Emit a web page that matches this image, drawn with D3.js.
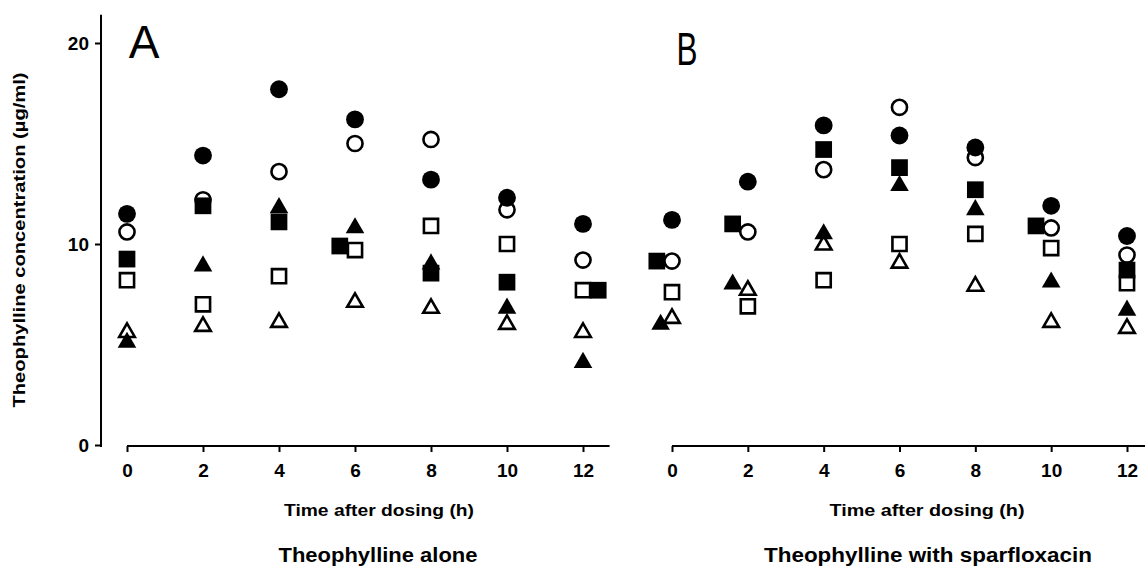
<!DOCTYPE html>
<html>
<head>
<meta charset="utf-8">
<script src="https://cdn.jsdelivr.net/npm/d3@7"></script>
<style>
    body { margin: 0; background: #fff; }
    svg { display: block; }
</style>
</head>
<body>
<script>

// -------------------------------------------------------------------------- //
//                                   DATA                                     //
// -------------------------------------------------------------------------- //

var xTicks = [0, 2, 4, 6, 8, 10, 12];
var yTicks = [0, 10, 20];

// sampling times (h); a few points are drawn slightly off the nominal time
var times         = [0, 2, 4, 6, 8, 10, 12];
var aTimesFSquare = [0, 2, 4, 5.6, 8, 10, 12.4];
var bTimesFSquare = [-0.4, 1.6, 4, 6, 8, 9.6, 12];
var bTimesFTri    = [-0.3, 1.6, 4, 6, 8, 10, 12];

// panel A : theophylline alone (ug/ml)
var aFilledCircle = [11.5, 14.4, 17.7, 16.2, 13.2, 12.3, 11.0];
var aOpenCircle   = [10.6, 12.2, 13.6, 15.0, 15.2, 11.7, 9.2];
var aFilledSquare = [9.25, 11.9, 11.1, 9.9, 8.55, 8.1, 7.7];
var aOpenSquare   = [8.2, 7.0, 8.4, 9.7, 10.9, 10.0, 7.7];
var aFilledTri    = [5.1, 8.9, 11.8, 10.8, 9.0, 6.8, 4.1];
var aOpenTri      = [5.6, 5.9, 6.1, 7.1, 6.8, 6.0, 5.6];

// panel B : theophylline with sparfloxacin (ug/ml)
var bFilledCircle = [11.2, 13.1, 15.9, 15.4, 14.8, 11.9, 10.4];
var bOpenCircle   = [9.15, 10.6, 13.7, 16.8, 14.3, 10.8, 9.45];
var bFilledSquare = [9.15, 11.0, 14.7, 13.8, 12.7, 10.9, 8.7];
var bOpenSquare   = [7.6, 6.9, 8.2, 10.0, 10.5, 9.8, 8.05];
var bFilledTri    = [6.0, 8.0, 10.5, 12.9, 11.7, 8.1, 6.7];
var bOpenTri      = [6.3, 7.7, 9.95, 9.05, 7.9, 6.1, 5.8];

// -------------------------------------------------------------------------- //
//                                  SETUP                                     //
// -------------------------------------------------------------------------- //

var width = 1145, height = 569;
var font = "'Liberation Sans', Arial, sans-serif";

var svg = d3.select("body")
    .append("svg")
    .attr("width", width)
    .attr("height", height);

svg.append("rect")
    .attr("width", width)
    .attr("height", height)
    .attr("fill", "#fff");

var y  = d3.scaleLinear().domain([0, 20]).range([445, 43]);
var xA = d3.scaleLinear().domain([0, 12]).range([127, 583]);
var xB = d3.scaleLinear().domain([0, 12]).range([672, 1127]);

// -------------------------------------------------------------------------- //
//                                   AXES                                     //
// -------------------------------------------------------------------------- //

var yAxisG = svg.append("g")
    .attr("transform", "translate(101,0)")
    .call(d3.axisLeft(y).tickValues(yTicks).tickSize(6).tickPadding(6)
        .tickFormat(d3.format("d")));

yAxisG.select(".domain").remove();
yAxisG.append("line")
    .attr("y1", y(-0.1))
    .attr("y2", y(21.4))
    .attr("stroke", "#000")
    .attr("stroke-width", 2);

function xAxis(xScale, xEnd)
{
    var g = svg.append("g")
        .attr("transform", "translate(0," + (y(0) + 1) + ")")
        .call(d3.axisBottom(xScale).tickValues(xTicks).tickSize(6).tickPadding(12)
            .tickFormat(d3.format("d")));

    g.select(".domain").remove();
    g.append("line")
        .attr("x1", xScale(0))
        .attr("x2", xScale(xEnd))
        .attr("stroke", "#000")
        .attr("stroke-width", 2);
    return g;
}

xAxis(xA, 12.7);
xAxis(xB, 12.6);

svg.selectAll(".tick line")
    .attr("stroke", "#000")
    .attr("stroke-width", 2);

svg.selectAll(".tick text")
    .style("font-family", font)
    .style("font-size", "19px")
    .style("font-weight", "bold")
    .attr("fill", "#000");

// -------------------------------------------------------------------------- //
//                                 MARKERS                                    //
// -------------------------------------------------------------------------- //

var shapes = {
    circle:   { type: d3.symbolCircle,   filled: 250, open: 180 },
    square:   { type: d3.symbolSquare,   filled: 280, open: 200 },
    triangle: { type: d3.symbolTriangle, filled: 150, open: 105 }
};

function drawSeries (xScale, t, values, shape, filled)
{
    var s = shapes[shape];
    var sym = d3.symbol().type(s.type).size(filled ? s.filled : s.open);
    var pts = values.map(function(v, i) { return { t: t[i], v: v }; });

    svg.append("g")
        .selectAll("path")
        .data(pts)
        .join("path")
        .attr("transform", function(d) {
            return "translate(" + xScale(d.t) + "," + y(d.v) + ")";
        })
        .attr("d", sym)
        .attr("fill", filled ? "#000" : "#fff")
        .attr("stroke", "#000")
        .attr("stroke-width", filled ? 0 : 2.6);
}

// panel A
drawSeries(xA, times, aOpenTri, "triangle", false);
drawSeries(xA, times, aFilledTri, "triangle", true);
drawSeries(xA, times, aOpenSquare, "square", false);
drawSeries(xA, times, aOpenCircle, "circle", false);
drawSeries(xA, aTimesFSquare, aFilledSquare, "square", true);
drawSeries(xA, times, aFilledCircle, "circle", true);

// panel B
drawSeries(xB, times, bOpenSquare, "square", false);
drawSeries(xB, times, bOpenTri, "triangle", false);
drawSeries(xB, bTimesFTri, bFilledTri, "triangle", true);
drawSeries(xB, bTimesFSquare, bFilledSquare, "square", true);
drawSeries(xB, times, bOpenCircle, "circle", false);
drawSeries(xB, times, bFilledCircle, "circle", true);

// -------------------------------------------------------------------------- //
//                                   TEXT                                     //
// -------------------------------------------------------------------------- //

function textOutput (x, yPos, text, size, weight, len, rotate)
{
    var t = svg.append("text")
        .text(text)
        .attr("x", x)
        .attr("y", yPos)
        .style("font-family", font)
        .style("font-size", size + "px")
        .style("font-weight", weight)
        .style("text-anchor", "middle")
        .attr("fill", "#000");
    if (len) t.attr("textLength", len).attr("lengthAdjust", "spacingAndGlyphs");
    if (rotate) t.attr("transform", "rotate(-90," + x + "," + yPos + ")");
    return t;
}

textOutput(25, 240, "Theophylline concentration (\u00b5g/ml)", 16, "bold", 335, true);

textOutput(144, 58, "A", 46, "normal");
textOutput(687, 65, "B", 46, "normal", 21);

textOutput(379, 516, "Time after dosing (h)", 17, "bold", 190);
textOutput(927, 516, "Time after dosing (h)", 17, "bold", 195);

textOutput(378, 562, "Theophylline alone", 20, "bold", 199);
textOutput(928, 562, "Theophylline with sparfloxacin", 20, "bold", 328);

</script>
</body>
</html>
